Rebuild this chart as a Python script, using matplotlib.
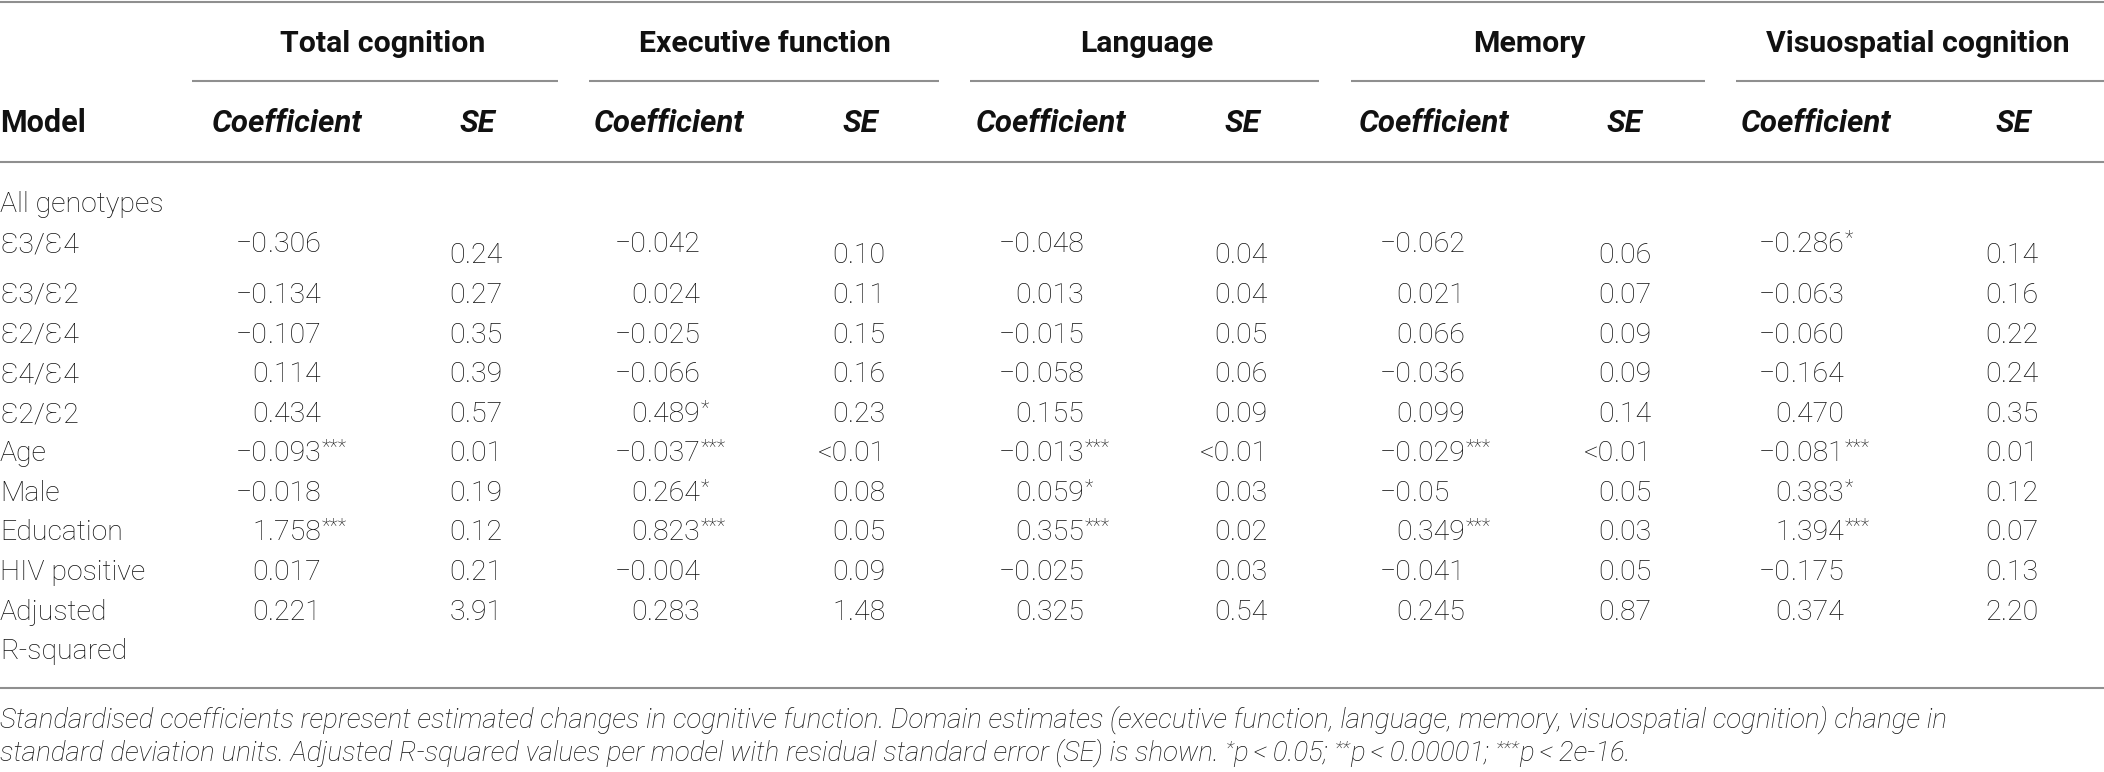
import matplotlib
matplotlib.use("Agg")
import matplotlib.pyplot as plt

W, H = 2104, 772

# table content
groups = ["Total cognition", "Executive function", "Language", "Memory", "Visuospatial cognition"]
row_labels = ["\u01903/\u01904", "\u01903/\u01902", "\u01902/\u01904", "\u01904/\u01904", "\u01902/\u01902",
              "Age", "Male", "Education", "HIV positive", "Adjusted"]

total_coef = ["\u22120.306", "\u22120.134", "\u22120.107", "0.114", "0.434", "\u22120.093***",
              "\u22120.018", "1.758***", "0.017", "0.221"]
total_se = ["0.24", "0.27", "0.35", "0.39", "0.57", "0.01", "0.19", "0.12", "0.21", "3.91"]
exec_coef = ["\u22120.042", "0.024", "\u22120.025", "\u22120.066", "0.489*", "\u22120.037***",
             "0.264*", "0.823***", "\u22120.004", "0.283"]
exec_se = ["0.10", "0.11", "0.15", "0.16", "0.23", "<0.01", "0.08", "0.05", "0.09", "1.48"]
lang_coef = ["\u22120.048", "0.013", "\u22120.015", "\u22120.058", "0.155", "\u22120.013***",
             "0.059*", "0.355***", "\u22120.025", "0.325"]
lang_se = ["0.04", "0.04", "0.05", "0.06", "0.09", "<0.01", "0.03", "0.02", "0.03", "0.54"]
mem_coef = ["\u22120.062", "0.021", "0.066", "\u22120.036", "0.099", "\u22120.029***",
            "\u22120.05", "0.349***", "\u22120.041", "0.245"]
mem_se = ["0.06", "0.07", "0.09", "0.09", "0.14", "<0.01", "0.05", "0.03", "0.05", "0.87"]
visuo_coef = ["\u22120.286*", "\u22120.063", "\u22120.060", "\u22120.164", "0.470", "\u22120.081***",
              "0.383*", "1.394***", "\u22120.175", "0.374"]
visuo_se = ["0.14", "0.16", "0.22", "0.24", "0.35", "0.01", "0.12", "0.07", "0.13", "2.20"]

coef_cols = [total_coef, exec_coef, lang_coef, mem_coef, visuo_coef]
se_cols = [total_se, exec_se, lang_se, mem_se, visuo_se]

note1 = ("Standardised coefficients represent estimated changes in cognitive function. Domain estimates "
         "(executive function, language, memory, visuospatial cognition) change in")
note2 = [("standard deviation units. Adjusted R-squared values per model with residual standard error (SE) is shown. ", False),
         ("*", True), ("p\u2009<\u20090.05; ", False), ("**", True), ("p\u2009<\u20090.00001; ", False),
         ("***", True), ("p\u2009<\u20092e-16.", False)]

# layout (pixels)
head_x = [383, 765, 1147, 1529, 1918]
coef_head_x = [287, 669, 1051, 1434, 1816]
se_head_x = [477, 860, 1242, 1624, 2013]
coef_dec = [268, 647, 1031, 1412, 1791]
se_dec = [465, 848, 1230, 1614, 2001]
spans = [(192, 558), (589, 939), (970, 1319), (1351, 1705), (1736, 2104)]
row_base = [252, 303, 343, 382, 422, 461, 501, 540, 580, 620]

FAM = ["Roboto", "DejaVu Sans"]
INK = "#111111"
RULE = "#8f8f8f"
FS = 20.5

fig = plt.figure(figsize=(W / 100, H / 100), dpi=100)
ax = fig.add_axes([0, 0, 1, 1])
ax.set_xlim(0, W)
ax.set_ylim(H, 0)
ax.axis("off")
renderer = fig.canvas.get_renderer()


def width_of(t):
    return t.get_window_extent(renderer).width


def txt(x, y, s, **kw):
    kw.setdefault("fontsize", FS)
    kw.setdefault("fontweight", "light")
    kw.setdefault("va", "baseline")
    return ax.text(x, y, s, family=FAM, color=INK, **kw)


def decimal(x, y, s):
    num = s.rstrip("*")
    stars = s[len(num):]
    head, tail = num.split(".")
    txt(x, y, head, ha="right")
    t = txt(x, y, "." + tail, ha="left")
    if stars:
        txt(x + width_of(t) + 1, y - 8, stars, ha="left", fontsize=FS * 0.7)


# rules
for yy in (1.5, 162, 688):
    ax.plot([0, W], [yy, yy], color=RULE, lw=1.5, solid_capstyle="butt")
for a, b in spans:
    ax.plot([a, b], [81, 81], color=RULE, lw=1.5, solid_capstyle="butt")

# header
for i, g in enumerate(groups):
    txt(head_x[i], 52, g, ha="center", fontweight="bold", fontsize=21.8)
    txt(coef_head_x[i], 132, "Coefficient", ha="center", fontweight="bold", style="italic", fontsize=22.5)
    txt(se_head_x[i], 132, "SE", ha="center", fontweight="bold", style="italic", fontsize=22.5)
txt(0, 132, "Model", ha="left", fontweight="bold", fontsize=22)

# body
txt(0, 212, "All genotypes", ha="left")
for r, lab in enumerate(row_labels):
    txt(0, row_base[r], lab, ha="left")
txt(0, 659, "R-squared", ha="left")

for c in range(5):
    for r in range(len(row_labels)):
        decimal(coef_dec[c], row_base[r], coef_cols[c][r])
        y_se = row_base[r] + (11 if r == 0 else 0)
        decimal(se_dec[c], y_se, se_cols[c][r])

# footnote, sized so the first line ends where the reference does
fs_note = 18
t1 = txt(0, 728, note1, ha="left", fontsize=fs_note, style="italic")
fs_note = fs_note * 1948 / width_of(t1)
t1.set_fontsize(fs_note)

x = 0
for seg, sup in note2:
    if sup:
        t = txt(x, 761 - 7, seg, ha="left", fontsize=fs_note * 0.7, style="italic")
    else:
        t = txt(x, 761, seg, ha="left", fontsize=fs_note, style="italic")
    x += width_of(t)

fig.savefig("out.png", dpi=100, facecolor="white")
